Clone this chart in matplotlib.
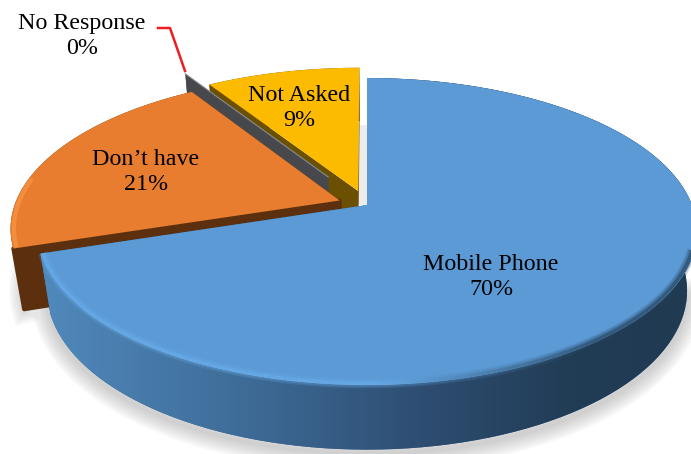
import numpy as np
import matplotlib
matplotlib.use('Agg')
import matplotlib.pyplot as plt
from matplotlib.collections import LineCollection
from matplotlib.colors import LinearSegmentedColormap, to_rgb
from matplotlib.patches import Polygon

plt.rcParams['font.family'] = ['Liberation Serif', 'DejaVu Serif']

labels = ['Mobile Phone', 'Don\u2019t have', 'No Response', 'Not Asked']
values = [70, 21, 0, 9]
explode = [0, 0.09, 0.23, 0.10]
top_colors = ['#5b9ad5', '#e87d2f', '#46484c', '#fdbb00']
wall_colors = ['#3c6690', '#5c300f', '#46484c', '#6a5000']

# perspective camera of the tilted pie, worked out from the picture (pixels)
cx, cy = 367, 205
k, m = 0.1726, 0.03
rx, ry, depth = 325, -113.5, 67


def project(u, v, z=0):
    w = 1 + k * v + m * z
    return cx + rx * u / w, (cy + ry * v + depth * z) / w


def arc(a0, a1, off, r=1.0, z=0, n=120):
    # angles are degrees clockwise from 12 o'clock
    t = np.radians(np.linspace(a0, a1, n))
    return project(r * np.sin(t) + off[0], r * np.cos(t) + off[1], z)


def quad(p0, p1):
    return np.column_stack([np.r_[p0[0], p1[0][::-1]], np.r_[p0[1], p1[1][::-1]]])


fig = plt.figure(figsize=(6.91, 4.54), dpi=100)
ax = fig.add_axes([0, 0, 1, 1])
ax.set_xlim(0, 691)
ax.set_ylim(454, 0)
ax.axis('off')

edges = np.cumsum([0] + values) * 3.6
offsets = []
for i in range(len(values)):
    mid = np.radians((edges[i] + edges[i + 1]) / 2)
    offsets.append((explode[i] * np.sin(mid), explode[i] * np.cos(mid)))

# soft shadow under the pie
sx, sy = arc(100, 260, (0, 0), z=1.03)
for lw in np.arange(24, 1, -3):
    ax.plot(sx, sy + 2, color='#808080', lw=lw, alpha=0.05, zorder=1)
so = arc(edges[1], edges[1] + 14, offsets[1], z=1.03)
for lw in np.arange(18, 1, -3):
    ax.plot(so[0], so[1], color='#808080', lw=lw, alpha=0.05, zorder=1)
ax.fill_between([358, 367], 125, 205, color='#ececec', lw=0, zorder=1)

# back to front: Not Asked, No Response, Don't have, Mobile Phone
for order, i in enumerate([3, 2, 1, 0]):
    off = offsets[i]
    a0, a1 = edges[i], edges[i + 1]
    zo = 3 + order * 2
    apex_top = project(off[0], off[1])
    apex_bot = project(off[0], off[1], 1)

    # cut faces and outer wall
    for a in (a0, a1):
        t = np.radians(a)
        ex, ey = np.sin(t) + off[0], np.cos(t) + off[1]
        tp = np.array([apex_top, project(ex, ey)]).T
        bt = np.array([apex_bot, project(ex, ey, 1)]).T
        rounded = i == 1 and a == a0
        ax.add_patch(Polygon(quad(tp, bt), closed=True, fc=wall_colors[i], ec=wall_colors[i],
                             lw=3 if rounded else 0, joinstyle='round', zorder=zo))
    if values[i] > 0:
        outer = quad(arc(a0, a1, off), arc(a0, a1, off, z=1))
        wall = Polygon(outer, closed=True, fc=wall_colors[i], ec='none', zorder=zo)
        ax.add_patch(wall)
        if i == 0:
            # wall shading, lighter on the left, almost navy on the right
            ramp = LinearSegmentedColormap.from_list(
                'wall', [(0, '#5089bc'), (0.3, '#3f6d99'), (0.6, '#2d4c70'), (0.82, '#213c55'), (1, '#203a52')])
            im = ax.imshow(np.linspace(0, 1, 300)[None, :], cmap=ramp, extent=(40, 691, 454, 0),
                           aspect='auto', zorder=zo + 0.1)
            im.set_clip_path(wall)

        # top face
        ax_, ay_ = arc(a0, a1, off)
        ax.add_patch(Polygon(np.column_stack([np.r_[apex_top[0], ax_], np.r_[apex_top[1], ay_]]), closed=True,
                             fc=top_colors[i], ec='none', zorder=zo + 1))
    else:
        # zero slice: thin light line on the upper edge
        t = np.radians(a0)
        ex, ey = project(np.sin(t) + off[0], np.cos(t) + off[1])
        ax.plot([apex_top[0], ex], [apex_top[1], ey], color='#8a8c90', lw=0.8, zorder=zo + 0.5)

# bevel on the front rim of the blue slice, front part only
rim = arc(edges[0], edges[1], offsets[0], r=0.993, n=300)
pts = np.column_stack(rim)
pts = pts[pts[:, 1] > 215]
c_hi, c_lo = np.array(to_rgb('#68ace9')), np.array(to_rgb('#274560'))
segs = np.stack([pts[:-1], pts[1:]], axis=1)
frac = np.clip((pts[:-1, 0] - 380) / 220, 0, 1)[:, None]
cols = c_hi * (1 - frac) + c_lo * frac
for lw, al in [(7, 0.18), (5, 0.25), (2.5, 0.6)]:
    ax.add_collection(LineCollection(segs, colors=cols, linewidths=lw, alpha=al, zorder=12, capstyle='butt'))

# light strip on the left of the orange slice
ox, oy = arc(edges[1] + 1, edges[1] + 26, offsets[1], r=0.99)
ax.plot(ox, oy, color='#f9933d', lw=3, alpha=0.8, zorder=10)

# red leader of the zero slice
ax.plot([158, 170, 185], [28, 28, 71], color='#ee1c25', lw=1.8, zorder=14)

label_pos = [(491, 277), (146, 172), (82, 36), (299, 108)]
for name, val, (tx, ty) in zip(labels, values, label_pos):
    ax.text(tx, ty, f'{name}\n{val}%', ha='center', va='center', fontsize=17.3, color='black',
            linespacing=1.27, zorder=20)

ax.set_xlim(0, 691)
ax.set_ylim(454, 0)
fig.savefig('out.png', dpi=100)
